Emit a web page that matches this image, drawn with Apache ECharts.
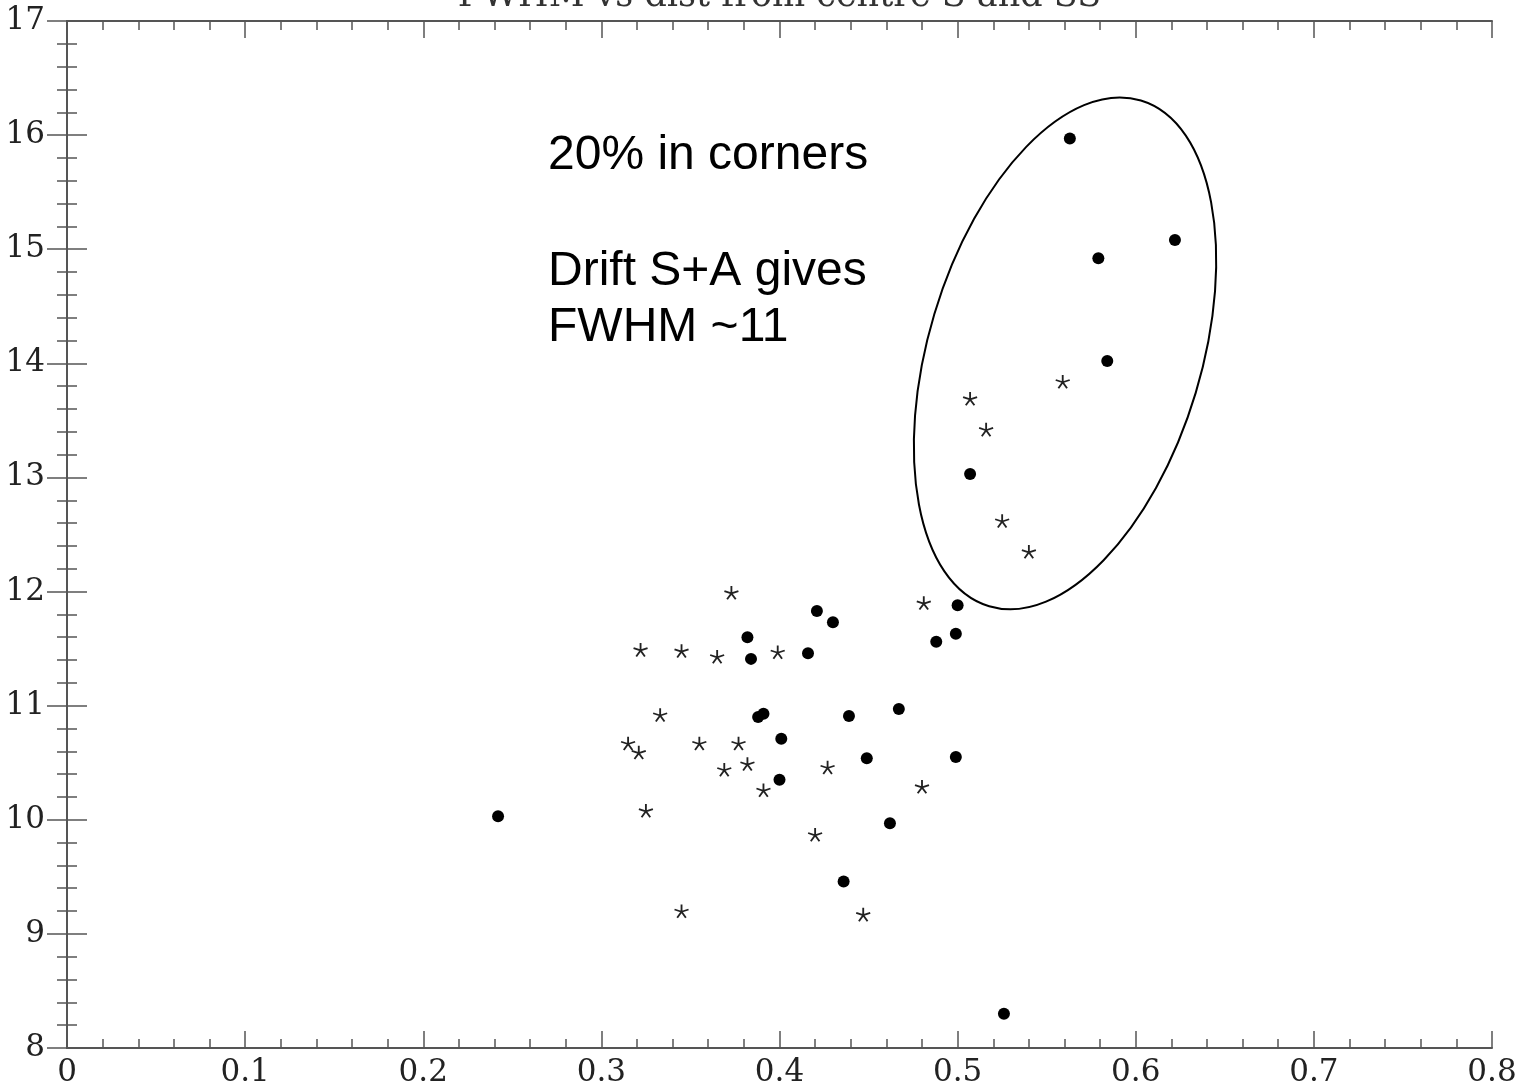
<!DOCTYPE html>
<html>
<head>
<meta charset="utf-8">
<script src="https://cdn.jsdelivr.net/npm/echarts@6/dist/echarts.min.js"></script>
<style>
  html, body { margin: 0; padding: 0; background: #fff; }
  #chart { width: 1531px; height: 1088px; }
</style>
</head>
<body>
<div id="chart"></div>
<script>
// filled dots: [dist, FWHM]
const dotsX = [0.242, 0.563, 0.622, 0.579, 0.584, 0.507, 0.500, 0.499, 0.488, 0.421,
  0.430, 0.382, 0.384, 0.416, 0.388, 0.391, 0.439, 0.467, 0.401, 0.449,
  0.499, 0.400, 0.462, 0.436, 0.526];
const dotsY = [10.03, 15.97, 15.08, 14.92, 14.02, 13.03, 11.88, 11.63, 11.56, 11.83,
  11.73, 11.60, 11.41, 11.46, 10.90, 10.93, 10.91, 10.97, 10.71, 10.54,
  10.55, 10.35, 9.97, 9.46, 8.30];

// stars
const starsX = [0.373, 0.322, 0.345, 0.365, 0.399, 0.481, 0.333, 0.315, 0.321, 0.355,
  0.377, 0.369, 0.382, 0.427, 0.391, 0.325, 0.420, 0.345, 0.447, 0.480,
  0.559, 0.507, 0.516, 0.525, 0.540];
const starsY = [11.99, 11.49, 11.48, 11.43, 11.47, 11.90, 10.92, 10.67, 10.59, 10.67,
  10.67, 10.44, 10.49, 10.46, 10.26, 10.08, 9.87, 9.20, 9.17, 10.29,
  13.84, 13.69, 13.42, 12.62, 12.35];

const xTicks = ['0', '0.1', '0.2', '0.3', '0.4', '0.5', '0.6', '0.7', '0.8'];
const yTicks = ['8', '9', '10', '11', '12', '13', '14', '15', '16', '17'];

const titleText = 'FWHM vs dist from centre S and SS';
const notes = ['20% in corners', 'Drift S+A gives', 'FWHM ~11'];

// ellipse drawn round the corner points (centre in data units)
const ringCentre = [0.5603, 14.087];

const starPath = 'path://M10 10 L10 0 M10 10 L19.51 6.91 M10 10 L15.88 18.09 M10 10 L4.12 18.09 M10 10 L0.49 6.91';
const axisCol = '#555';
const serif = 'DejaVu Serif';

function axisBase(extra) {
  return Object.assign({
    type: 'value',
    axisLine: { show: true, lineStyle: { color: axisCol, width: 2 } },
    splitLine: { show: false },
    minorTick: { show: true, splitNumber: 5, length: 9, lineStyle: { color: axisCol, width: 1.5 } },
    axisTick: { show: true, inside: true, length: 17, lineStyle: { color: axisCol, width: 1.5 } }
  }, extra);
}

const chart = echarts.init(document.getElementById('chart'));

const option = {
  animation: false,
  backgroundColor: '#fff',
  grid: { left: 67, right: 39, top: 21, bottom: 38 },
  xAxis: [
    axisBase({
      min: 0, max: 0.8, interval: 0.1, position: 'bottom',
      axisLabel: {
        margin: 9, color: '#222', fontFamily: serif, fontSize: 31,
        formatter: v => xTicks[Math.round(v * 10)]
      }
    }),
    axisBase({
      min: 0, max: 0.8, interval: 0.1, position: 'top',
      axisLabel: { show: false }
    })
  ],
  yAxis: [
    axisBase({
      min: 8, max: 17, interval: 1, position: 'left',
      axisTick: { show: true, inside: true, length: 20, lineStyle: { color: axisCol, width: 1.5 } },
      minorTick: { show: true, splitNumber: 5, length: 10, lineStyle: { color: axisCol, width: 1.5 } },
      axisLabel: {
        margin: 22, color: '#222', fontFamily: serif, fontSize: 31,
        formatter: v => yTicks[Math.round(v - 8)]
      }
    }),
    axisBase({
      min: 8, max: 17, interval: 1, position: 'right',
      axisTick: { show: true, inside: true, length: 20, lineStyle: { color: axisCol, width: 1.5 } },
      minorTick: { show: true, splitNumber: 5, length: 10, lineStyle: { color: axisCol, width: 1.5 } },
      axisLabel: { show: false }
    })
  ],
  series: [
    {
      type: 'scatter',
      name: 'dots',
      symbol: 'circle',
      symbolSize: 12,
      itemStyle: { color: '#000', opacity: 1 },
      data: dotsX.map((x, i) => [x, dotsY[i]])
    },
    {
      type: 'scatter',
      name: 'stars',
      symbol: starPath,
      symbolSize: [14, 13.3],
      itemStyle: { color: 'transparent', borderColor: '#222', borderWidth: 1.8, opacity: 1 },
      data: starsX.map((x, i) => [x, starsY[i]])
    }
  ]
};

chart.setOption(option);

const c = chart.convertToPixel({ gridIndex: 0 }, ringCentre);
const titleX = chart.convertToPixel({ xAxisIndex: 0 }, 0.4);

chart.setOption({
  graphic: [
    {
      type: 'text', x: titleX, y: 14,
      style: { text: titleText, font: '35px "DejaVu Serif"', fill: '#333', align: 'center', verticalAlign: 'bottom' }
    },
    {
      type: 'ellipse', x: c[0], y: c[1], rotation: -16.7 * Math.PI / 180,
      shape: { cx: 0, cy: 0, rx: 136.5, ry: 264 },
      style: { fill: 'none', stroke: '#000', lineWidth: 2 },
      z: 10
    },
    {
      type: 'text', x: 548, y: 132,
      style: { text: notes[0], font: '48px "Liberation Sans"', fill: '#000' }
    },
    {
      type: 'text', x: 548, y: 248,
      style: { text: notes[1], font: '48px "Liberation Sans"', fill: '#000' }
    },
    {
      type: 'text', x: 548, y: 304,
      style: { text: notes[2], font: '48px "Liberation Sans"', fill: '#000' }
    }
  ]
});
</script>
</body>
</html>
